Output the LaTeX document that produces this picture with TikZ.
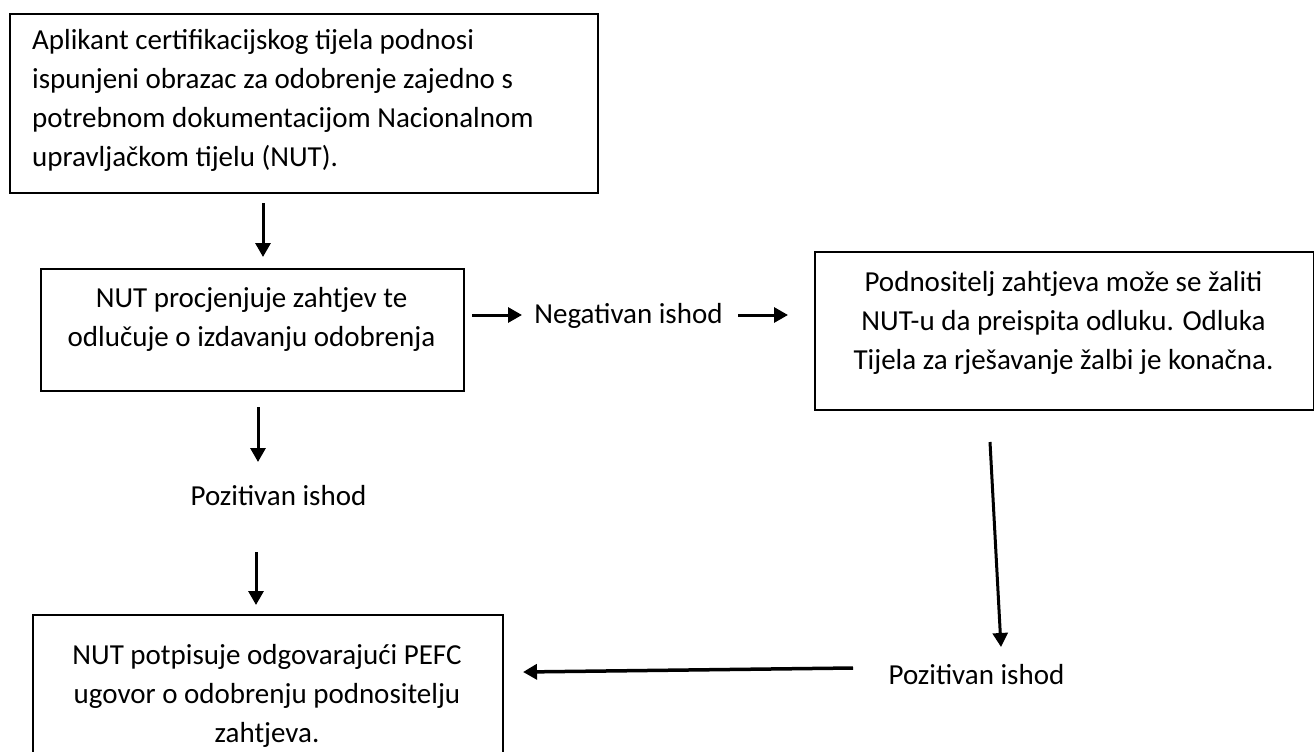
\documentclass[tikz,border=0pt]{standalone}
\usepackage{fontspec}
\setmainfont{Carlito}
\usetikzlibrary{arrows.meta}
\begin{document}
\begin{tikzpicture}[x=1pt,y=-1pt,
  box/.style={draw, line width=1.8pt, inner sep=0pt, anchor=north west},
  txt/.style={font=\fontsize{29}{39}\selectfont, inner sep=0pt, align=center},
  arr/.style={line width=3pt, -{Triangle[length=14pt,width=15pt]}},
]
\useasboundingbox (0,0) rectangle (1314,752);
\clip (0,0) rectangle (1314,752);
\fill[white] (0,0) rectangle (1314,752);

% boxes
\node[box, minimum width=588pt, minimum height=179pt] (b1) at (9,13) {};
\node[box, minimum width=423pt, minimum height=122pt] (b2) at (40,268) {};
\node[box, minimum width=499pt, minimum height=158pt] (b3) at (814,251) {};
\node[box, minimum width=470pt, minimum height=160pt] (b4) at (32,614) {};

% texts (anchor base = baseline of the last line)
\node[txt, align=left, anchor=base west] (t1) at (32,166)
  {Aplikant certifikacijskog tijela podnosi\\ispunjeni obrazac za odobrenje zajedno s\\potrebnom dokumentacijom Nacionalnom\\upravljačkom tijelu (NUT).};
\node[txt, anchor=base] (t2) at (251.5,346)
  {NUT procjenjuje zahtjev te\\odlučuje o izdavanju odobrenja};
\node[txt, anchor=base] (t3) at (1063.5,369)
  {Podnositelj zahtjeva može se žaliti\\NUT-u da preispita odluku. Odluka\\Tijela za rješavanje žalbi je konačna.};
\node[txt, anchor=base] (t4) at (267,742)
  {NUT potpisuje odgovarajući PEFC\\ugovor o odobrenju podnositelju\\zahtjeva.};
\node[txt, anchor=base] (neg) at (628.5,323) {Negativan ishod};
\node[txt, anchor=base] (pos1) at (278.5,505) {Pozitivan ishod};
\node[txt, anchor=base] (pos2) at (976.5,684) {Pozitivan ishod};

% connector endpoints
\coordinate (a1s) at (263,203); \coordinate (a1e) at (263,257);
\coordinate (n1s) at (472,315); \coordinate (n1e) at (522,315);
\coordinate (n2s) at (738,315); \coordinate (n2e) at (788,315);
\coordinate (p1s) at (258,407); \coordinate (p1e) at (258,462);
\coordinate (p2s) at (256,552); \coordinate (p2e) at (256,605);
\coordinate (r1s) at (990,442); \coordinate (r1e) at (1001,647);
\coordinate (l1s) at (853,668); \coordinate (l1e) at (523,672);

\draw[arr] (a1s) -- (a1e);
\draw[arr] (n1s) -- (n1e);
\draw[arr] (n2s) -- (n2e);
\draw[arr] (p1s) -- (p1e);
\draw[arr] (p2s) -- (p2e);
\draw[arr] (r1s) -- (r1e);
\draw[arr, line width=3.5pt] (l1s) -- (l1e);
\end{tikzpicture}
\end{document}
